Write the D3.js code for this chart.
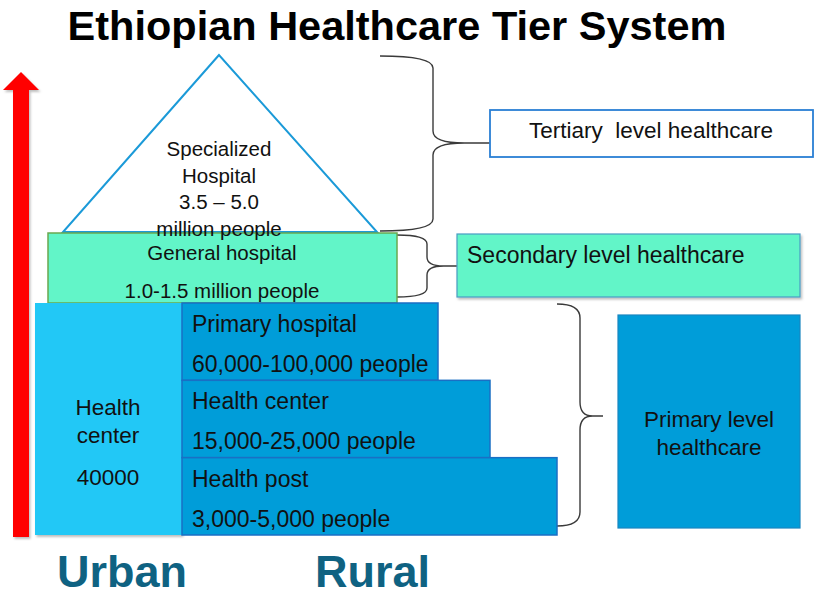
<!DOCTYPE html>
<html lang="en">
<head>
  <meta charset="utf-8">
  <script src="https://d3js.org/d3.v7.min.js"></script>
  <style>
    body { margin: 0; background: #fff; }
    text { font-family: "Liberation Sans", Arial, sans-serif; white-space: pre; }
  </style>
</head>
<body>
  <svg id="chart" width="817" height="597"></svg>

  <script>
    // data
    const title = "Ethiopian Healthcare Tier System";
    const tertiaryLines = ["Specialized", "Hospital", "3.5 \u2013 5.0", "million people"];
    const secondaryLines = ["General hospital", "1.0-1.5 million people"];
    const ruralTiers = ["Primary hospital", "Health center", "Health post"];
    const ruralPopulation = ["60,000-100,000 people", "15,000-25,000 people", "3,000-5,000 people"];
    const urbanLines = ["Health", "center", "40000"];
    const levelLabels = ["Tertiary  level healthcare", "Secondary level healthcare", "Primary level healthcare"];
    const axisLabels = ["Urban", "Rural"];

    const svg = d3.select("svg#chart");

    // drop shadow for boxes
    const defs = svg.append("defs");
    const f = defs.append("filter").attr("id", "shadow").attr("x", "-5%").attr("y", "-5%").attr("width", "115%").attr("height", "120%");
    f.append("feDropShadow").attr("dx", 1.5).attr("dy", 2).attr("stdDeviation", 1.2).attr("flood-color", "#000").attr("flood-opacity", 0.25);

    // vertical layout of the rural steps
    const yRow = d3.scaleBand().domain(ruralTiers).range([303, 535]).padding(0);
    const rightEdge = d3.scaleOrdinal().domain(ruralTiers).range([438, 490, 557]);

    // title
    svg.append("text")
      .attr("x", 397).attr("y", 40)
      .attr("text-anchor", "middle")
      .attr("font-size", 41.5).attr("font-weight", "bold")
      .attr("fill", "#000")
      .text(title);

    // red arrow
    svg.append("path")
      .attr("d", "M13,537 L13,90 L3,90 L21,72 L39,90 L29,90 L29,537 Z")
      .attr("fill", "#ff0000")
      .attr("filter", "url(#shadow)");

    // braces
    function brace(x0, y0, y1, xm, xt, yt, r) {
      return `M${x0},${y0} Q${xm},${y0} ${xm},${y0 + r} L${xm},${yt - r} Q${xm},${yt} ${xm + (xt - xm) * 0.55},${yt} L${xt},${yt}` +
        ` M${xt},${yt} L${xm + (xt - xm) * 0.55},${yt} Q${xm},${yt} ${xm},${yt + r} L${xm},${y1 - r} Q${xm},${y1} ${x0},${y1}`;
    }
    const braces = [
      brace(380, 56, 231, 433, 490, 143, 12),
      brace(397, 235, 297, 427, 457, 266, 9),
      brace(557, 304, 526, 580, 603, 416, 14)
    ];
    svg.append("g").selectAll("path").data(braces).join("path")
      .attr("d", d => d)
      .attr("fill", "none")
      .attr("stroke", "#3a3a3a")
      .attr("stroke-width", 1.4);

    // triangle (tertiary)
    svg.append("path")
      .attr("d", "M219,55 L63,232 L377,232 Z")
      .attr("fill", "#fff")
      .attr("stroke", "#1b9ad8")
      .attr("stroke-width", 2);

    // general hospital
    svg.append("rect")
      .attr("x", 48).attr("y", 233).attr("width", 349).attr("height", 70)
      .attr("fill", "#62f5c8").attr("stroke", "#6aa84f").attr("stroke-width", 1.5);

    svg.append("g").selectAll("text").data(tertiaryLines).join("text")
      .attr("x", 219).attr("y", (d, i) => 156 + i * 26.5)
      .attr("text-anchor", "middle").attr("font-size", 20.5).attr("fill", "#111")
      .text(d => d);

    svg.append("g").selectAll("text").data(secondaryLines).join("text")
      .attr("x", 222).attr("y", (d, i) => 260 + i * 38)
      .attr("text-anchor", "middle").attr("font-size", 20.5).attr("fill", "#111")
      .text(d => d);

    // urban health center
    svg.append("rect")
      .attr("x", 35).attr("y", 303).attr("width", 147).attr("height", 232)
      .attr("fill", "#22c8f6").attr("filter", "url(#shadow)");

    svg.append("g").selectAll("text").data(urbanLines).join("text")
      .attr("x", 108).attr("y", (d, i) => [415, 443, 485][i])
      .attr("text-anchor", "middle").attr("font-size", 22.5).attr("fill", "#111")
      .text(d => d);

    // rural steps
    const rows = svg.append("g").selectAll("g").data(ruralTiers).join("g");
    rows.append("rect")
      .attr("x", 182).attr("y", d => yRow(d))
      .attr("width", d => rightEdge(d) - 182).attr("height", yRow.bandwidth())
      .attr("fill", "#009dd9").attr("stroke", "#1a6fc4").attr("stroke-width", 1.5);
    rows.append("text")
      .attr("x", 192).attr("y", d => yRow(d) + 29)
      .attr("font-size", 23).attr("fill", "#111")
      .text(d => d);
    rows.append("text")
      .attr("x", 192).attr("y", (d, i) => yRow(d) + 69)
      .attr("font-size", 23).attr("fill", "#111")
      .text((d, i) => ruralPopulation[i]);

    // level boxes
    svg.append("rect")
      .attr("x", 490).attr("y", 110).attr("width", 323).attr("height", 47)
      .attr("fill", "#fff").attr("stroke", "#2a7fd4").attr("stroke-width", 1.8);
    svg.append("text")
      .attr("x", 651).attr("y", 138).attr("text-anchor", "middle")
      .attr("font-size", 22.5).attr("fill", "#111")
      .text(levelLabels[0]);

    svg.append("rect")
      .attr("x", 457).attr("y", 234).attr("width", 343).attr("height", 63)
      .attr("fill", "#62f5c8").attr("stroke", "#4a9cc4").attr("stroke-width", 1.2)
      .attr("filter", "url(#shadow)");
    svg.append("text")
      .attr("x", 467).attr("y", 263)
      .attr("font-size", 23).attr("fill", "#111")
      .text(levelLabels[1]);

    svg.append("rect")
      .attr("x", 618).attr("y", 315).attr("width", 182).attr("height", 213)
      .attr("fill", "#009dd9").attr("stroke", "#1a86c0").attr("stroke-width", 1.2);
    const pl = levelLabels[2].split(" ");
    svg.append("g").selectAll("text").data([pl.slice(0, 2).join(" "), pl[2]]).join("text")
      .attr("x", 709).attr("y", (d, i) => 427 + i * 28)
      .attr("text-anchor", "middle").attr("font-size", 22.5).attr("fill", "#111")
      .text(d => d);

    // urban / rural labels
    svg.append("g").selectAll("text").data(axisLabels).join("text")
      .attr("x", (d, i) => [57, 315][i]).attr("y", 587)
      .attr("font-size", 45).attr("font-weight", "bold").attr("fill", "#0f6282")
      .text(d => d);
  </script>
</body>
</html>
